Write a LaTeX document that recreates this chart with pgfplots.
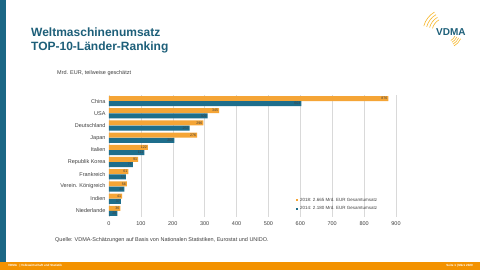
\documentclass[border=0pt]{standalone}
\usepackage{pgfplots}
\pgfplotsset{compat=1.18}
\usepackage{fontspec}
\setmainfont{Liberation Sans}
\definecolor{vteal}{HTML}{1B6785}
\definecolor{vtitle}{HTML}{1D5F79}
\definecolor{vorange}{HTML}{F5A536}
\definecolor{vblue}{HTML}{1E6E8C}
\definecolor{vfoot}{HTML}{F39200}
\definecolor{vgray}{HTML}{404040}
\begin{document}
\begin{tikzpicture}[x=1pt,y=1pt]
\useasboundingbox (0,0) rectangle (480,270);
\fill[white] (0,0) rectangle (480,270);
% left stripe and footer
\fill[vteal] (0,8) rectangle (6,270);
\fill[vfoot] (0,0) rectangle (480,8);
\node[anchor=west,text=white,font=\bfseries\fontsize{3}{3.5}\selectfont,inner sep=0] at (8,4) {VDMA \ \ | Volkswirtschaft und Statistik};
\node[anchor=east,text=white,font=\bfseries\fontsize{3}{3.5}\selectfont,inner sep=0] at (473,4) {Seite 1 | März 2020};
% title
\node[anchor=north west,text=vtitle,font=\bfseries\fontsize{12}{14}\selectfont,align=left,inner sep=0] at (31,242.5) {Weltmaschinenumsatz\\TOP-10-Länder-Ranking};
% logo
\node[anchor=west,text=vtitle,font=\bfseries\fontsize{10}{12}\selectfont,inner sep=0] at (436,238) {VDMA};
\foreach \r in {14,17,20,23}{
  \draw[vorange!80!yellow,line width=0.6pt] (446,238) ++(120:\r) arc (120:165:\r);
  \draw[vorange!80!yellow,line width=0.6pt] (446,238) ++(-60:\r*0.7) arc (-60:-25:\r*0.7);
}
% unit text
\node[anchor=west,text=vgray,font=\fontsize{5.5}{6.5}\selectfont,inner sep=0] at (57,197) {Mrd. EUR, teilweise geschätzt};
% source
\node[anchor=west,text=vgray,font=\fontsize{5.5}{6.5}\selectfont,inner sep=0] at (55,30) {Quelle: VDMA-Schätzungen auf Basis von Nationalen Statistiken, Eurostat und UNIDO.};
\begin{axis}[
  at={(109pt,53pt)}, anchor=south west,
  width=287pt, height=122pt, scale only axis,
  xmin=0, xmax=900, ymin=-0.5, ymax=9.5,
  xtick={0,100,...,900},
  ytick={0,...,9},
  yticklabels={Niederlande,Indien,{Verein. Königreich},Frankreich,{Republik Korea},Italien,Japan,Deutschland,USA,China},
  axis line style={draw=none},
  major tick length=0pt,
  xmajorgrids, grid style={gray!30,line width=0.5pt},
  ticklabel style={font=\fontsize{5.5}{6.5}\selectfont,text=vgray},
  xticklabel style={yshift=-1pt},
  /pgf/number format/assume math mode=true,
  xbar, bar width=5pt,
  legend style={at={(0.64,0.19)},anchor=north west,draw=none,fill=none,
    font=\fontsize{4.5}{5}\selectfont,text=vgray,row sep=-0.5pt},
  legend image code/.code={\fill[#1,draw=none] (0pt,-1.1pt) rectangle (2.2pt,1.1pt);},
  legend cell align=left,
  nodes near coords,
  every node near coord/.append style={anchor=east,font=\fontsize{3.6}{4}\selectfont,text=vgray,inner sep=0.8pt},
]
\addplot[fill=vorange,draw=none,bar shift=2.6pt] coordinates {
(36,0) (41,1) (56,2) (61,3) (91,4) (122,5) (276,6) (296,7) (345,8) (876,9)};
\addlegendentry{2018: 2.665 Mrd. EUR Gesamtumsatz}
\addplot[fill=vblue,draw=none,bar shift=-2.6pt] coordinates {
(26,0) (37,1) (48,2) (53,3) (75,4) (111,5) (205,6) (253,7) (309,8) (603,9)};
\addlegendentry{2014: 2.180 Mrd. EUR Gesamtumsatz}
\end{axis}
\end{tikzpicture}
\end{document}
